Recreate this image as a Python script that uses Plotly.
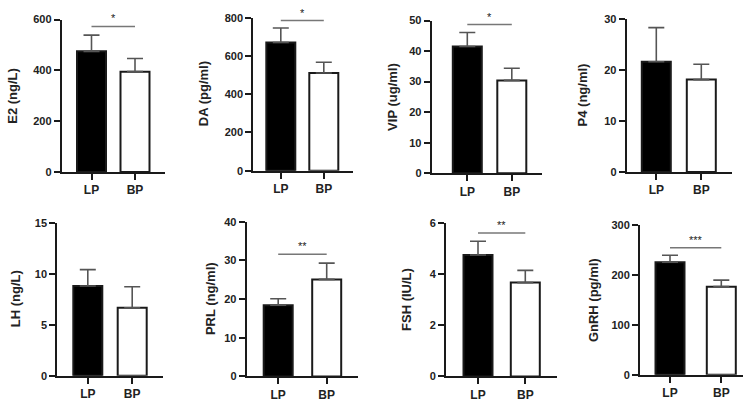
import plotly.graph_objects as go

W, H = 751, 408

# ---- data ----
titles = ["E2 (ng/L)", "DA (pg/ml)", "VIP (ug/ml)", "P4 (ng/ml)",
          "LH (ng/L)", "PRL (ng/ml)", "FSH (IU/L)", "GnRH (pg/ml)"]
groups = ["LP", "BP"]
lp_mean = [475, 670, 41.5, 21.6, 8.8, 18.4, 4.76, 226]
lp_err = [64, 76, 4.6, 6.7, 1.6, 1.7, 0.54, 14]
bp_mean = [395, 511, 30.4, 18.1, 6.66, 25.1, 3.68, 177]
bp_err = [52, 56, 4.0, 3.0, 2.06, 4.2, 0.48, 13]
y_max = [600, 800, 50, 30, 15, 40, 6, 300]
y_dtick = [200, 200, 10, 10, 5, 10, 2, 100]
sig_label = ["*", "*", "*", "", "", "**", "**", "***"]
sig_y = [573, 785, 48.7, None, None, 31.6, 5.62, 255]

# ---- layout geometry (pixels) ----
ax_x0 = [61.7, 253.3, 431.7, 626.7, 57.3, 246.7, 446, 640]
ax_x1 = [165, 353, 541.7, 731.7, 162.7, 358.3, 556.7, 743.3]
lp_cx = [91.5, 280.8, 467.3, 656.3, 87.8, 278.2, 478, 670]
bp_cx = [135, 323.8, 511.8, 701.3, 132.2, 326.7, 525.3, 721.3]
ax_top = [14, 12, 15, 13.3, 223.3, 222.3, 224, 226]
ax_bot = [171, 169.7, 172.3, 171, 381, 381.7, 381.7, 380]
title_x = [13, 203, 393, 582, 15, 210, 407, 593]
bar_px = 29

AX = "#1a1a1a"
fig = go.Figure()
layout = {}
annotations = []
shapes = []
for i in range(8):
    n = "" if i == 0 else str(i + 1)
    xa, ya = "x" + n, "y" + n
    unit = bp_cx[i] - lp_cx[i]
    r0 = -(lp_cx[i] - ax_x0[i]) / unit
    r1 = (ax_x1[i] - lp_cx[i]) / unit
    bw = bar_px / unit
    for j, (m, e, fill) in enumerate([(lp_mean[i], lp_err[i], "black"),
                                      (bp_mean[i], bp_err[i], "white")]):
        fig.add_trace(go.Bar(
            x=[j], y=[m], width=[bw], xaxis=xa, yaxis=ya,
            marker=dict(color=fill, line=dict(color=AX, width=2)),
            error_y=dict(type="data", symmetric=False, array=[e], arrayminus=[0],
                         color="#555555", thickness=1.6, width=8),
            showlegend=False, hoverinfo="skip"))
    if sig_label[i]:
        fig.add_trace(go.Scatter(
            x=[0, 1], y=[sig_y[i], sig_y[i]], xaxis=xa, yaxis=ya, mode="lines",
            line=dict(color="#777777", width=1.5), showlegend=False, hoverinfo="skip"))
        annotations.append(dict(
            x=0.5, y=sig_y[i], xref=xa, yref=ya, text=sig_label[i], showarrow=False,
            yanchor="bottom", yshift=0, font=dict(family="Liberation Sans", size=11, color="#222")))
    layout["xaxis" + n] = dict(
        domain=[ax_x0[i] / W, ax_x1[i] / W], range=[r0, r1], anchor=ya,
        tickmode="array", tickvals=[0, 1], ticktext=groups,
        showline=True, linecolor=AX, linewidth=2, ticks="outside", ticklen=6,
        tickwidth=2, tickcolor=AX, showgrid=False, zeroline=False,
        tickfont=dict(family="Liberation Sans", size=12, color="#222", weight="bold"),
        fixedrange=True)
    layout["yaxis" + n] = dict(
        domain=[1 - ax_bot[i] / H, 1 - ax_top[i] / H], range=[0, y_max[i]], anchor=xa,
        dtick=y_dtick[i], tick0=0, showline=True, linecolor=AX, linewidth=2,
        ticks="outside", ticklen=6, tickwidth=2, tickcolor=AX, showgrid=False,
        zeroline=False,
        tickfont=dict(family="Liberation Sans", size=11, color="#222", weight="bold"),
        fixedrange=True)
    annotations.append(dict(
        x=title_x[i] / W, y=1 - (ax_top[i] + ax_bot[i]) / 2 / H, xref="paper", yref="paper",
        text=titles[i], textangle=-90, showarrow=False, xanchor="center", yanchor="middle",
        font=dict(family="Liberation Sans", size=13, color="#222", weight="bold")))

fig.update_layout(
    width=W, height=H, margin=dict(l=0, r=0, t=0, b=0),
    paper_bgcolor="white", plot_bgcolor="white",
    annotations=annotations, barmode="overlay", **layout)
fig.write_html("out.html")
